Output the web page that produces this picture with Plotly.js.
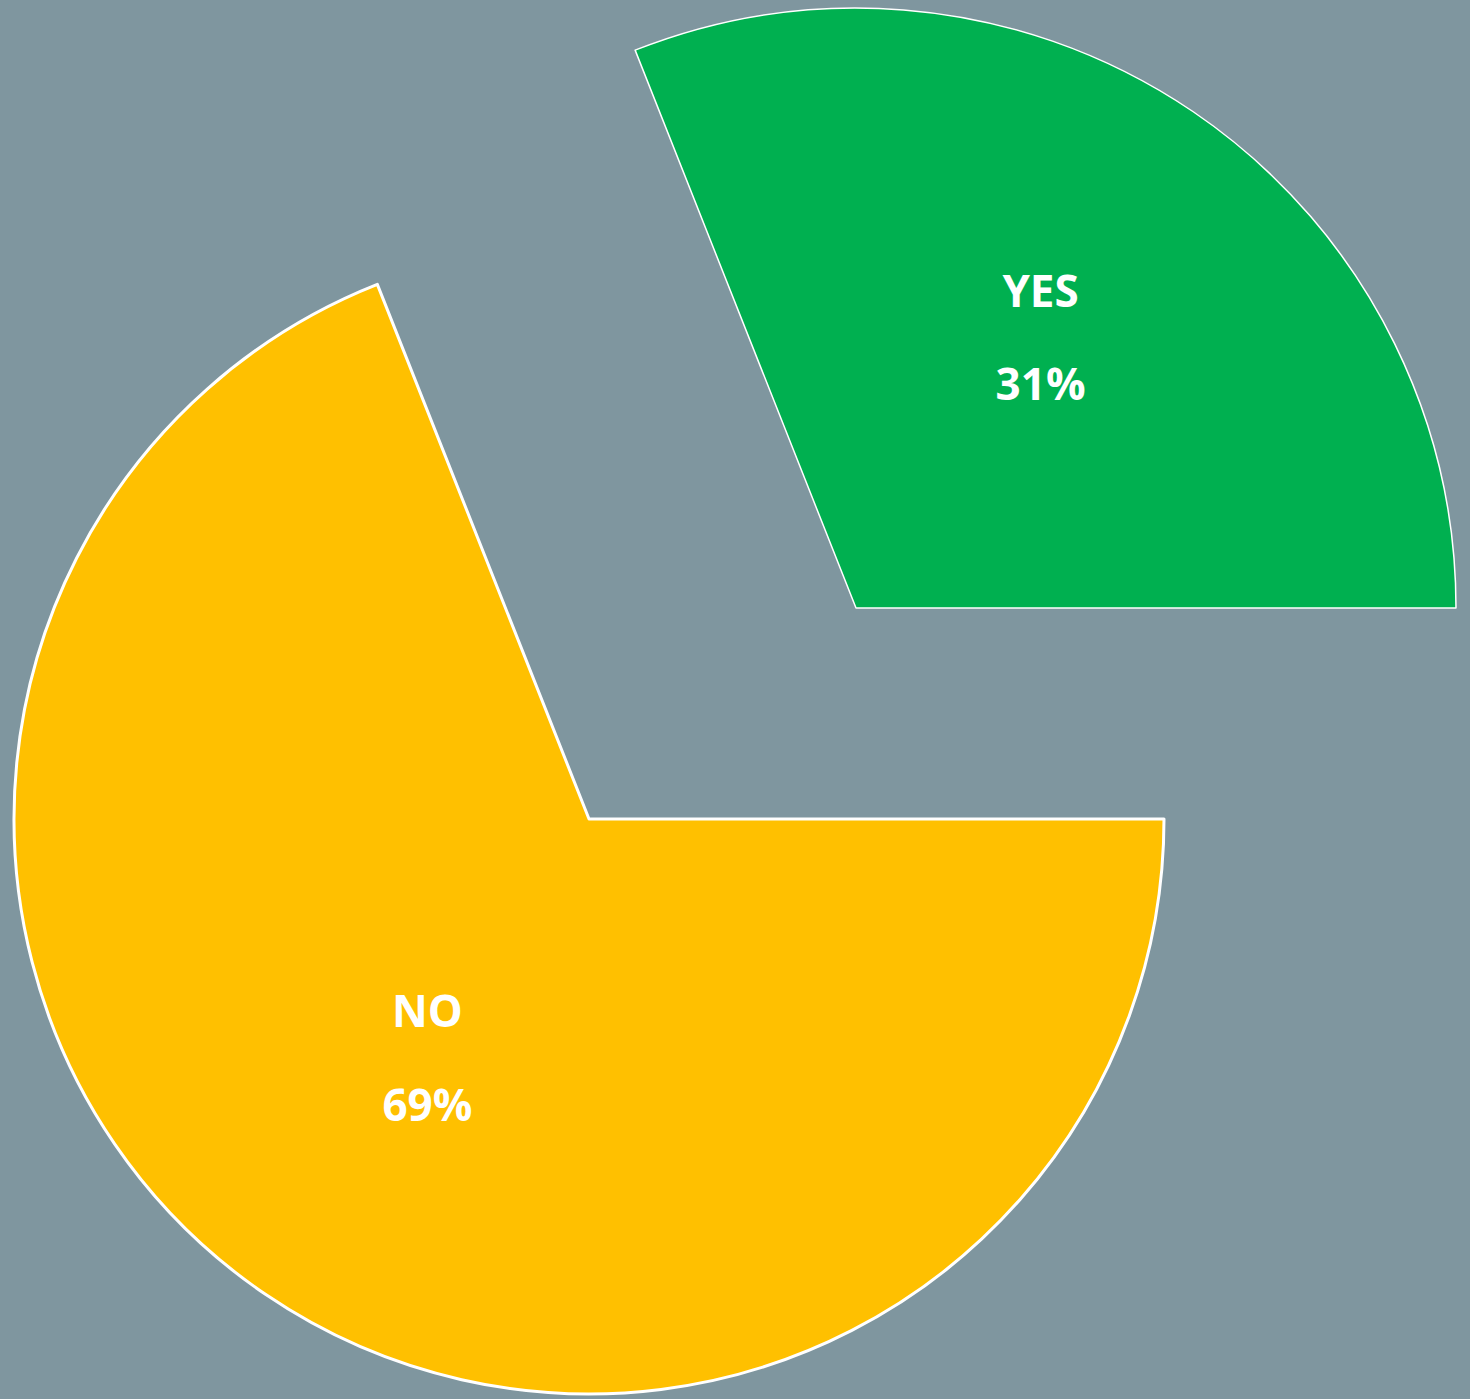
<!DOCTYPE html>
<html>
<head>
<meta charset="utf-8">
<script src="https://cdn.plot.ly/plotly-3.0.1.min.js"></script>
<style>html,body{margin:0;padding:0;background:#7F969F;}#chart{width:1470px;height:1399px;}</style>
</head>
<body>
<div id="chart"></div>
<script>
const labels = ["YES", "NO"];
const values = [31, 69];
const sliceColors = ["#00B050", "#FFC000"];
const clear = "rgba(0,0,0,0)";

const textFont = {family: "Open Sans, Lato, sans-serif", size: 36, color: "#FFFFFF", weight: "bold"};
const tmpl = "<span style='font-size:44px'><b>%{label}</b></span><br><br><span style='font-size:44px'><b>%{percent}</b></span>";

// trace showing only the NO slice (YES slice transparent)
const noTrace = {
  type: "pie",
  labels: labels,
  values: values,
  sort: false,
  direction: "clockwise",
  rotation: -21.6,
  marker: {colors: [clear, sliceColors[1]], line: {color: "#FFFFFF", width: [0, 3]}},
  texttemplate: ["", tmpl],
  textposition: "inside",
  insidetextorientation: "horizontal",
  textfont: textFont,
  hoverinfo: "label+percent",
  domain: {x: [0.009524, 0.79184], y: [0.003574, 0.82559]},
  showlegend: false
};

// trace showing only the YES slice, offset outwards
const yesTrace = {
  type: "pie",
  labels: labels,
  values: values,
  sort: false,
  direction: "clockwise",
  rotation: -21.6,
  marker: {colors: [sliceColors[0], clear], line: {color: "#FFFFFF", width: [1.5, 0]}},
  texttemplate: [tmpl, ""],
  textposition: "inside",
  insidetextorientation: "horizontal",
  textfont: textFont,
  hoverinfo: "label+percent",
  domain: {x: [0.17415, 0.99048], y: [0.13653, 0.99428]},
  showlegend: false
};

const layout = {
  width: 1470,
  height: 1399,
  margin: {l: 0, r: 0, t: 0, b: 0},
  paper_bgcolor: "#7F969F",
  plot_bgcolor: "#7F969F",
  showlegend: false
};

Plotly.newPlot("chart", [noTrace, yesTrace], layout, {displayModeBar: false, staticPlot: true});
</script>
</body>
</html>
